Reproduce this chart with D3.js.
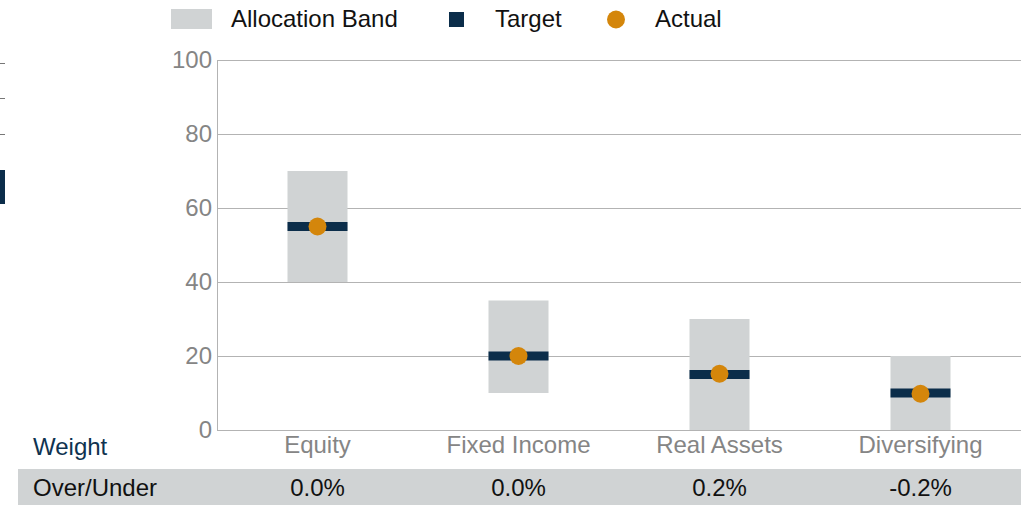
<!DOCTYPE html>
<html>
<head>
<meta charset="utf-8">
<script src="https://cdn.jsdelivr.net/npm/d3@7"></script>
<style>
  body { margin: 0; background: #fff; }
  svg { display: block; font-family: "Liberation Sans", Arial, sans-serif; }
</style>
</head>
<body>
<svg id="chart" width="1021" height="505"></svg>
<script>
// chart data
const categories = ["Equity", "Fixed Income", "Real Assets", "Diversifying"];
const bandLow = [40, 10, 0, 0];
const bandHigh = [70, 35, 30, 20];
const target = [55, 20, 15, 10];
const actual = [55, 20, 15.2, 9.8];
const overUnder = ["0.0%", "0.0%", "0.2%", "-0.2%"];
const yTicks = [0, 20, 40, 60, 80, 100];

const navy = "#0b2d4a", orange = "#d4860b", band = "#d0d3d4", grid = "#b3b3b3";
const fs = 24;

const svg = d3.select("#chart");

// plot geometry
const plotLeft = 217, plotRight = 1021, plotTop = 60, plotBottom = 430;

const x = d3.scaleBand().domain(categories).range([plotLeft, plotRight]);
const y = d3.scaleLinear().domain([0, 100]).range([plotBottom, plotTop]);
const bw = 60;

// remnant marks at the left edge (cropped from a neighbouring chart)
svg.append("g").selectAll("line")
    .data([63, 98, 134])
    .join("line")
    .attr("x1", 0).attr("x2", 5)
    .attr("y1", d => d + 0.5).attr("y2", d => d + 0.5)
    .attr("stroke", "#777").attr("stroke-width", 1);
svg.append("rect").attr("x", 0).attr("y", 170).attr("width", 5).attr("height", 34).attr("fill", navy);

// gridlines + y labels
const yAxis = svg.append("g");
yAxis.selectAll("line")
    .data(yTicks)
    .join("line")
    .attr("x1", plotLeft).attr("x2", plotRight)
    .attr("y1", d => Math.round(y(d)) + 0.5).attr("y2", d => Math.round(y(d)) + 0.5)
    .attr("stroke", grid).attr("stroke-width", 1);
yAxis.append("line")
    .attr("x1", plotLeft + 0.5).attr("x2", plotLeft + 0.5)
    .attr("y1", plotTop).attr("y2", plotBottom)
    .attr("stroke", grid);
yAxis.selectAll("text")
    .data(yTicks)
    .join("text")
    .attr("x", 212).attr("y", d => y(d))
    .attr("dy", "0.35em")
    .attr("text-anchor", "end")
    .attr("fill", "#858585")
    .attr("font-size", fs)
    .text(d => d);

// allocation bands
const marks = svg.append("g");
marks.selectAll("rect.band")
    .data(categories)
    .join("rect")
    .attr("class", "band")
    .attr("x", d => x(d) + x.bandwidth() / 2 - bw / 2)
    .attr("width", bw)
    .attr("y", (d, i) => y(bandHigh[i]))
    .attr("height", (d, i) => y(bandLow[i]) - y(bandHigh[i]))
    .attr("fill", band);

// targets
marks.selectAll("rect.target")
    .data(categories)
    .join("rect")
    .attr("class", "target")
    .attr("x", d => x(d) + x.bandwidth() / 2 - bw / 2)
    .attr("width", bw)
    .attr("y", (d, i) => y(target[i]) - 4.5)
    .attr("height", 9)
    .attr("fill", navy);

// actuals
marks.selectAll("circle")
    .data(categories)
    .join("circle")
    .attr("cx", d => x(d) + x.bandwidth() / 2)
    .attr("cy", (d, i) => y(actual[i]))
    .attr("r", 9)
    .attr("fill", orange);

// category labels
svg.append("g").selectAll("text")
    .data(categories)
    .join("text")
    .attr("x", d => x(d) + x.bandwidth() / 2)
    .attr("y", 453)
    .attr("text-anchor", "middle")
    .attr("fill", "#858585")
    .attr("font-size", fs)
    .text(d => d);

svg.append("text").attr("x", 33).attr("y", 455)
    .attr("fill", "#0f3350").attr("font-size", fs).text("Weight");

// over/under row
svg.append("rect").attr("x", 18).attr("y", 469).attr("width", 1003).attr("height", 36).attr("fill", band);
svg.append("text").attr("x", 33).attr("y", 496)
    .attr("fill", "#111").attr("font-size", fs).text("Over/Under");
svg.append("g").selectAll("text")
    .data(categories)
    .join("text")
    .attr("x", d => x(d) + x.bandwidth() / 2)
    .attr("y", 496)
    .attr("text-anchor", "middle")
    .attr("fill", "#111")
    .attr("font-size", fs)
    .text((d, i) => overUnder[i]);

// legend
const legend = svg.append("g").attr("font-size", fs).attr("fill", "#111");
legend.append("rect").attr("x", 171).attr("y", 9).attr("width", 41).attr("height", 20).attr("fill", band);
legend.append("text").attr("x", 231).attr("y", 27).text("Allocation Band");
legend.append("rect").attr("x", 449).attr("y", 12).attr("width", 15).attr("height", 15).attr("fill", navy);
legend.append("text").attr("x", 495).attr("y", 27).text("Target");
legend.append("circle").attr("cx", 616).attr("cy", 19.5).attr("r", 9).attr("fill", orange);
legend.append("text").attr("x", 655).attr("y", 27).text("Actual");
</script>
</body>
</html>
